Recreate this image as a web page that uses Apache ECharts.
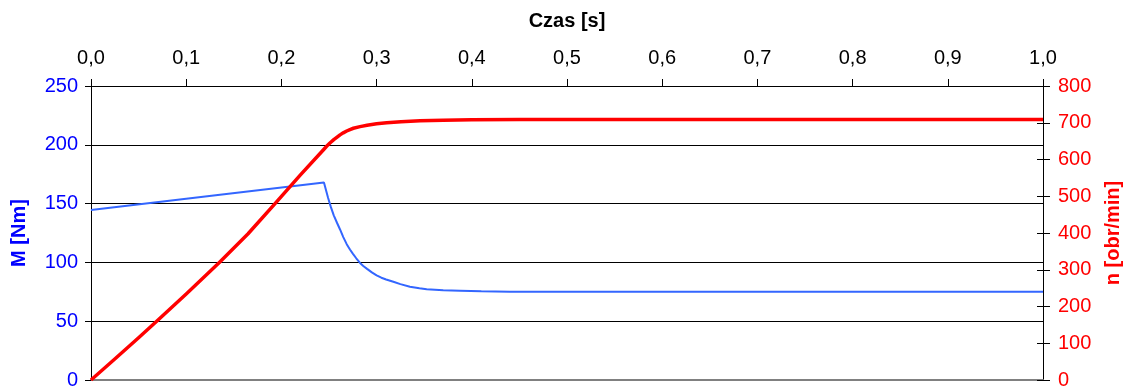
<!DOCTYPE html>
<html>
<head>
<meta charset="utf-8">
<script src="https://cdn.jsdelivr.net/npm/echarts@6/dist/echarts.min.js"></script>
<style>
html,body{margin:0;padding:0;background:#fff;}
#c{width:1124px;height:389px;}
</style>
</head>
<body>
<div id="c"></div>
<script>
// Time axis tick labels (s)
var timeTicks = [0, 0.1, 0.2, 0.3, 0.4, 0.5, 0.6, 0.7, 0.8, 0.9, 1.0];
// Torque M [Nm]
var timeM  = [0, 0.1355, 0.2447, 0.249, 0.252, 0.255, 0.2585, 0.2616, 0.265, 0.2686, 0.272, 0.275, 0.2786, 0.2826, 0.286, 0.29, 0.295, 0.30, 0.305, 0.31, 0.3176, 0.325, 0.335, 0.345, 0.3526, 0.37, 0.3876, 0.41, 0.44, 0.5, 0.6, 0.8, 1.0];
var valuesM = [144.5, 157.5, 168, 155, 147, 140, 133.5, 128, 121.5, 115.5, 111, 107.5, 103.5, 99.5, 97, 94.5, 91.5, 89, 87, 85.5, 83.5, 81.5, 79.3, 78, 77.1, 76.3, 75.9, 75.4, 75.1, 75, 75, 75, 75];
// Speed n [obr/min]
var timeN  = [0, 0.025, 0.05, 0.069, 0.1, 0.1348, 0.165, 0.1933, 0.22, 0.2447, 0.2475, 0.251, 0.255, 0.2585, 0.2616, 0.265, 0.2686, 0.272, 0.2756, 0.2826, 0.29, 0.30, 0.3106, 0.3256, 0.3456, 0.37, 0.4, 0.45, 0.6, 0.8, 1.0];
var valuesN = [0, 57, 115, 160, 234, 320, 398, 480, 558, 628, 636, 645, 654, 661, 667, 672.5, 677.5, 681.5, 685, 689.5, 693, 697, 700, 703, 705.5, 707, 708.5, 709, 709, 709, 709];

function pairs(xs, ys){ return xs.map(function(x,i){ return [x, ys[i]]; }); }
var FONT = '"Liberation Sans", Arial, Helvetica, sans-serif';
var FS = 20;
var G = {left: 91, right: 81, top: 86, bottom: 9, containLabel: false, outerBoundsMode: 'none'};
var chart = echarts.init(document.getElementById('c'), null, {renderer:'canvas'});
chart.setOption({
  animation: false,
  backgroundColor: '#fff',
  textStyle: {fontFamily: FONT},
  grid: [G, Object.assign({}, G)],
  xAxis: [{
    type: 'value', gridIndex: 0, position: 'top', min: 0, max: 1, interval: 0.1,
    name: 'Czas [s]', nameLocation: 'middle', nameGap: 55,
    nameTextStyle: {fontFamily: FONT, fontSize: FS, fontWeight: 'bold', color: '#000'},
    axisLine: {show: true, onZero: false, lineStyle: {color: '#000', width: 1}},
    axisTick: {show: true, inside: false, length: 7, lineStyle: {color: '#000'}},
    axisLabel: {fontFamily: FONT, fontSize: FS, color: '#000', margin: 18,
      formatter: function(v){ return v.toFixed(1).replace('.', ','); }},
    splitLine: {show: false}
  },{
    type: 'value', gridIndex: 1, position: 'bottom', min: 0, max: 1,
    axisLine: {show: true, onZero: false, lineStyle: {color: '#808080', width: 2}},
    axisTick: {show: false}, axisLabel: {show: false}, splitLine: {show: false}
  }],
  yAxis: [{
    type: 'value', gridIndex: 0, position: 'left', min: 0, max: 250, interval: 50,
    name: 'M [Nm]', nameLocation: 'middle', nameGap: 62, nameRotate: 90,
    nameTextStyle: {fontFamily: FONT, fontSize: FS, fontWeight: 'bold', color: '#0000ff'},
    axisLine: {show: true, onZero: false, lineStyle: {color: '#000', width: 1}},
    axisTick: {show: true, inside: false, length: 6, lineStyle: {color: '#000'}},
    axisLabel: {fontFamily: FONT, fontSize: FS, color: '#0000ff', margin: 13},
    splitLine: {show: true, lineStyle: {color: '#000', width: 1}}
  },{
    type: 'value', gridIndex: 0, position: 'right', min: 0, max: 800, interval: 100,
    name: 'n [obr/min]', nameLocation: 'middle', nameGap: 60, nameRotate: 90,
    nameTextStyle: {fontFamily: FONT, fontSize: FS, fontWeight: 'bold', color: '#ff0000'},
    axisLine: {show: true, onZero: false, lineStyle: {color: '#000', width: 1}},
    axisTick: {show: true, inside: false, length: 7, lineStyle: {color: '#000'}},
    axisLabel: {fontFamily: FONT, fontSize: FS, color: '#ff0000', margin: 15},
    splitLine: {show: false}
  },{
    type: 'value', gridIndex: 1, position: 'right', min: 0, max: 800, interval: 100,
    axisLine: {show: false, onZero: false},
    axisTick: {show: true, inside: true, length: 6, lineStyle: {color: '#000'}},
    axisLabel: {show: false}, splitLine: {show: false}
  }],
  series: [{
    name: 'M', type: 'line', xAxisIndex: 0, yAxisIndex: 0,
    data: pairs(timeM, valuesM), showSymbol: false, smooth: false,
    lineStyle: {color: '#3366ff', width: 2}, z: 3
  },{
    name: 'n', type: 'line', xAxisIndex: 0, yAxisIndex: 1,
    data: pairs(timeN, valuesN), showSymbol: false, smooth: false,
    lineStyle: {color: '#ff0000', width: 3.5, join: 'round'}, z: 4
  }]
});
</script>
</body>
</html>
